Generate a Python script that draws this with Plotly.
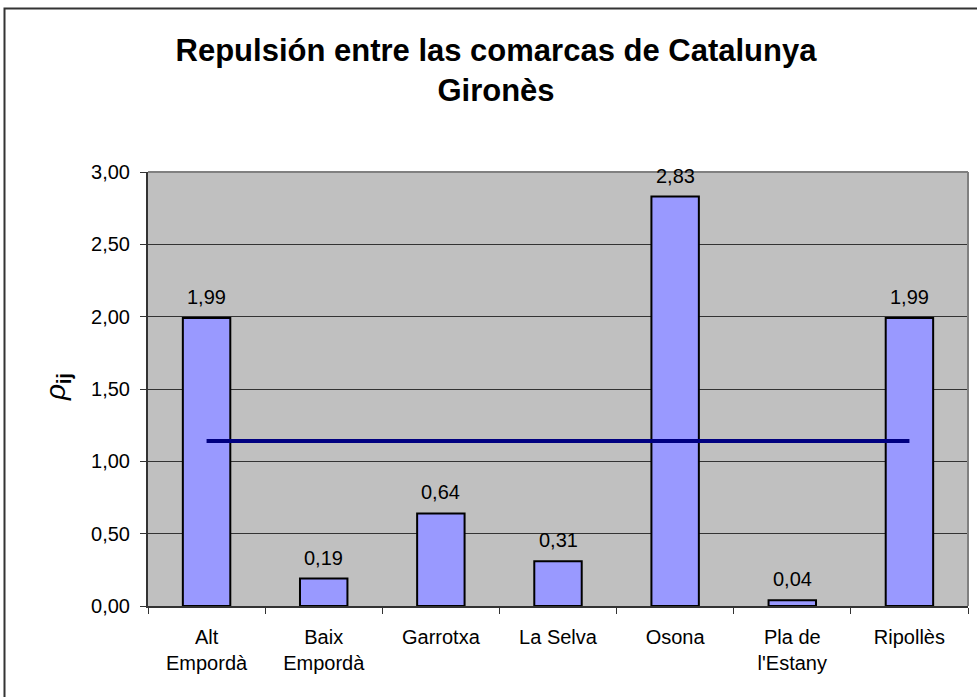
import plotly.graph_objects as go

categories = ["Alt<br>Empordà", "Baix<br>Empordà", "Garrotxa", "La Selva", "Osona", "Pla de<br>l'Estany", "Ripollès"]
values = [1.99, 0.19, 0.64, 0.31, 2.83, 0.04, 1.99]
mean_values = [1.14, 1.14, 1.14, 1.14, 1.14, 1.14, 1.14]
y_ticks = [0, 0.5, 1.0, 1.5, 2.0, 2.5, 3.0]
y_tick_labels = ["0,00", "0,50", "1,00", "1,50", "2,00", "2,50", "3,00"]

FONT = "Liberation Sans, Arial, sans-serif"
W, H = 977, 697
L, R, T, B = 148, 9, 172, 91
pw, ph = W - L - R, H - T - B

def px_x(x):
    return (x - L) / pw

def px_y(y):
    return (H - B - y) / ph

fig = go.Figure()
fig.add_trace(go.Bar(
    x=categories, y=values,
    marker=dict(color="#9999FF", line=dict(color="#000000", width=2)),
    hoverinfo="skip",
))
fig.add_trace(go.Scatter(
    x=categories, y=mean_values, mode="lines",
    line=dict(color="#000080", width=4),
    hoverinfo="skip",
))

annotations = []
for c, v in zip(categories, values):
    annotations.append(dict(
        x=c, y=v, xref="x", yref="y", text=f"{v:.2f}".replace(".", ","),
        showarrow=False, yanchor="bottom", yshift=8,
        font=dict(family=FONT, size=20, color="#000000"),
    ))
annotations.append(dict(
    x=px_x(57), y=px_y(387), xref="paper", yref="paper",
    xanchor="center", yanchor="middle",
    text="<i>ρ</i><sub><b>ij</b></sub>", textangle=-90, showarrow=False,
    font=dict(family=FONT, size=28, color="#000000"),
))

shapes = [
    # outer figure border (left and top visible)
    dict(type="rect", xref="paper", yref="paper",
         x0=px_x(4.5), x1=px_x(990), y0=px_y(8.5), y1=px_y(710),
         line=dict(color="#333333", width=2), fillcolor="rgba(0,0,0,0)", layer="below"),
    # plot area border top/right
    dict(type="line", xref="paper", yref="paper", x0=0, x1=1, y0=1, y1=1,
         line=dict(color="#808080", width=2)),
    dict(type="line", xref="paper", yref="paper", x0=1, x1=1, y0=0, y1=1,
         line=dict(color="#808080", width=2)),
]

fig.update_layout(
    width=W, height=H,
    margin=dict(l=L, r=R, t=T, b=B),
    paper_bgcolor="#FFFFFF",
    plot_bgcolor="#C0C0C0",
    showlegend=False,
    bargap=0.595,
    separators=",.",
    title=dict(
        text="<b>Repulsión entre las comarcas de Catalunya<br>Gironès</b>",
        x=496 / W, xref="container", xanchor="center",
        y=1 - 61 / H, yref="container", yanchor="middle",
        font=dict(family=FONT, size=31, color="#000000"),
    ),
    xaxis=dict(
        showline=True, linecolor="#333333", linewidth=2,
        ticks="outside", tickson="boundaries", ticklen=6, tickcolor="#333333",
        tickfont=dict(family=FONT, size=20, color="#000000"),
        ticklabelstandoff=12, showgrid=False, fixedrange=True,
    ),
    yaxis=dict(
        range=[0, 3], tickvals=y_ticks, ticktext=y_tick_labels,
        showline=True, linecolor="#333333", linewidth=2,
        ticks="outside", ticklen=6, tickcolor="#333333",
        tickfont=dict(family=FONT, size=20, color="#000000"),
        ticklabelstandoff=6,
        showgrid=True, gridcolor="#333333", gridwidth=1,
        zeroline=False, fixedrange=True,
    ),
    annotations=annotations,
    shapes=shapes,
)

fig.write_html(
    "out.html",
    config={"displayModeBar": False, "staticPlot": True},
    post_script="document.body.style.margin='0px';document.body.style.overflow='hidden';",
)
